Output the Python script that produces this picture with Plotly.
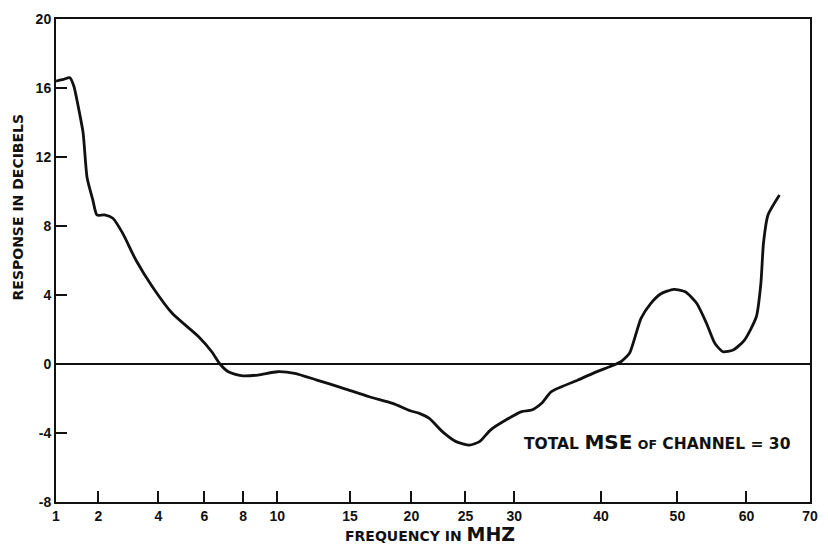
import numpy as np
import plotly.graph_objects as go

# Channel response vs. frequency (square-root frequency scale)
freq_mhz = [1.0, 1.15, 1.29, 1.38, 1.50, 1.60, 1.70, 1.85, 1.96, 2.17, 2.42, 2.73,
            3.17, 3.77, 4.56, 5.73, 6.36, 6.77, 7.20, 7.90, 8.84, 10.0, 11.1, 12.6,
            14.5, 16.5, 18.4, 19.9, 20.7, 21.6, 22.8, 24.1, 25.4, 26.4, 27.5, 29.1,
            30.8, 31.9, 33.0, 34.1, 37.2, 39.2, 41.3, 42.5, 43.6, 44.2, 45.1, 46.4,
            47.7, 49.5, 51.1, 52.7, 54.1, 55.3, 56.5, 58.0, 59.7, 61.5, 62.2, 62.6,
            63.3, 65.1]
response_db = [16.4, 16.5, 16.6, 16.1, 14.7, 13.4, 10.8, 9.5, 8.64, 8.64, 8.45, 7.57,
               6.03, 4.48, 2.94, 1.58, 0.71, 0.0, -0.45, -0.68, -0.64, -0.45, -0.54, -0.93,
               -1.41, -1.90, -2.28, -2.71, -2.86, -3.15, -3.92, -4.50, -4.70, -4.50, -3.83, -3.25,
               -2.76, -2.67, -2.28, -1.60, -0.93, -0.50, -0.12, 0.13, 0.62, 1.39, 2.65, 3.52,
               4.06, 4.33, 4.19, 3.52, 2.36, 1.20, 0.71, 0.81, 1.39, 2.74, 4.68, 7.0,
               8.64, 9.8]

x_ticks = [1, 2, 4, 6, 8, 10, 15, 20, 25, 30, 40, 50, 60, 70]
y_ticks = [-8, -4, 0, 4, 8, 12, 16, 20]
y_tick_text = ["-8", "-4", "0", "4", "8", "12", "16", "20"]

LABEL_FONT = "DejaVu Sans"
TICK_FONT = "Liberation Sans"
INK = "#111111"

fig = go.Figure()
fig.add_trace(go.Scatter(
    x=np.sqrt(freq_mhz), y=response_db, mode="lines",
    line=dict(color=INK, width=2.8, shape="spline", smoothing=0.6),
    showlegend=False, hoverinfo="skip",
))

tick_font = dict(family=TICK_FONT, size=14, color=INK, weight="bold")

fig.update_layout(
    width=828, height=547,
    margin=dict(l=56, r=10, t=19, b=45),
    paper_bgcolor="white", plot_bgcolor="white",
    font=dict(family=LABEL_FONT, size=14, color=INK),
    xaxis=dict(
        range=[1, np.sqrt(70)],
        tickmode="array", tickvals=np.sqrt(x_ticks), ticktext=[str(t) for t in x_ticks],
        ticks="inside", ticklen=11, tickwidth=2, tickcolor=INK,
        showline=True, linecolor=INK, linewidth=2, mirror=True,
        showgrid=False, zeroline=False, tickfont=tick_font,
    ),
    yaxis=dict(
        range=[-8, 20],
        tickmode="array", tickvals=y_ticks, ticktext=y_tick_text,
        ticks="inside", ticklen=11, tickwidth=2, tickcolor=INK,
        showline=True, linecolor=INK, linewidth=2, mirror=True,
        showgrid=False, zeroline=True, zerolinecolor=INK, zerolinewidth=2,
        tickfont=tick_font,
    ),
)

label_font = dict(family=LABEL_FONT, size=14, color=INK, weight="bold")

fig.add_annotation(
    x=-0.051, y=0.611, xref="paper", yref="paper", textangle=-90,
    xanchor="center", yanchor="middle",
    text="RESPONSE IN DECIBELS", showarrow=False, font=label_font,
)
fig.add_annotation(
    x=0.496, y=-0.067, xref="paper", yref="paper",
    xanchor="center", yanchor="middle",
    text='FREQUENCY IN <span style="font-size:19px">MHZ</span>',
    showarrow=False, font=label_font,
)
fig.add_annotation(
    x=0.798, y=0.124, xref="paper", yref="paper",
    xanchor="center", yanchor="middle",
    text=('TOTAL <span style="font-size:20px">MSE</span> '
          '<span style="font-size:12.5px">OF</span> CHANNEL = 30'),
    showarrow=False, font=dict(label_font, size=15.5),
)

fig.write_html("out.html")
